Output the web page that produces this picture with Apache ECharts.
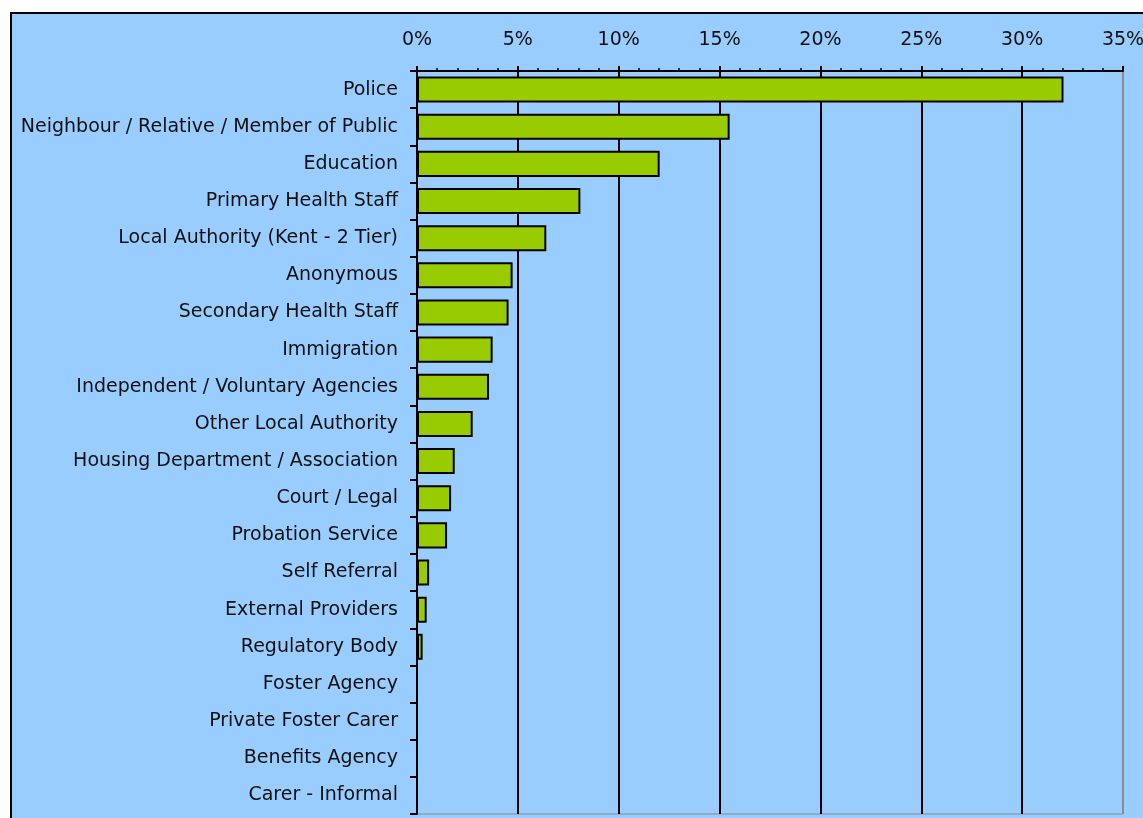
<!DOCTYPE html>
<html>
<head>
<meta charset="utf-8">
<script src="https://cdn.jsdelivr.net/npm/echarts@6/dist/echarts.min.js"></script>
<style>
  html, body { margin: 0; padding: 0; background: #fff; overflow: hidden; }
  #frame { position: absolute; left: 10px; top: 12px; width: 1200px; height: 900px;
           background: #99ccff; border-left: 2px solid #000; border-top: 2px solid #000; }
  #chart { position: absolute; left: 0; top: 0; width: 1143px; height: 818px; }
</style>
</head>
<body>
<div id="frame"></div>
<div id="chart"></div>
<script>
  // referral sources
  const categories = [
    'Police',
    'Neighbour / Relative / Member of Public',
    'Education',
    'Primary Health Staff',
    'Local Authority (Kent - 2 Tier)',
    'Anonymous',
    'Secondary Health Staff',
    'Immigration',
    'Independent / Voluntary Agencies',
    'Other Local Authority',
    'Housing Department / Association',
    'Court / Legal',
    'Probation Service',
    'Self Referral',
    'External Providers',
    'Regulatory Body',
    'Foster Agency',
    'Private Foster Carer',
    'Benefits Agency',
    'Carer - Informal'
  ];
  // percentage of referrals
  const shares = [32.05, 15.5, 12.03, 8.1, 6.41, 4.74, 4.54, 3.75, 3.57, 2.76,
                  1.87, 1.69, 1.49, 0.6, 0.48, 0.28, 0, 0, 0, 0];
  const tickValues = [0, 5, 10, 15, 20, 25, 30, 35];

  const font = '"DejaVu Sans", sans-serif';
  let myChart = echarts.init(document.getElementById('chart'), null, { renderer: 'canvas' });
  myChart.setOption({
    backgroundColor: 'transparent',
    animation: false,
    grid: {
      left: 417,
      right: 20,
      top: 71,
      bottom: 4,
      outerBoundsMode: 'none', // 35%标签允许被裁掉
      show: true,
      borderColor: '#8c8c8c',
      borderWidth: 1,
      backgroundColor: 'transparent'
    },
    xAxis: {
      type: 'value',
      position: 'top',
      min: tickValues[0],
      max: tickValues[tickValues.length - 1],
      interval: 5,
      axisLine: { show: true, lineStyle: { color: '#000', width: 2 } },
      axisTick: { show: true, length: 5, lineStyle: { color: '#000', width: 2 } },
      minorTick: { show: true, splitNumber: 5, length: 3, lineStyle: { color: '#000', width: 1.5 } },
      axisLabel: {
        margin: 21,
        color: '#111',
        fontFamily: font,
        fontSize: 19,
        formatter: '{value}%'
      },
      splitLine: {
        show: true,
        lineStyle: {
          //最后一条是灰色边框
          color: ['#000', '#000', '#000', '#000', '#000', '#000', '#000', '#8c8c8c'],
          width: 2
        }
      }
    },
    yAxis: {
      type: 'category',
      data: categories,
      inverse: true,
      axisLine: { show: true, lineStyle: { color: '#000', width: 2 } },
      axisTick: { show: true, length: 7, lineStyle: { color: '#000', width: 2 } },
      axisLabel: {
        margin: 19,
        color: '#111',
        fontFamily: font,
        fontSize: 19
      },
      splitLine: { show: false }
    },
    series: [{
      type: 'bar',
      data: shares,
      barCategoryGap: '30%',
      itemStyle: {
        color: '#99cc00',
        borderColor: '#000',
        borderWidth: 2
      }
    }]
  });
</script>
</body>
</html>
